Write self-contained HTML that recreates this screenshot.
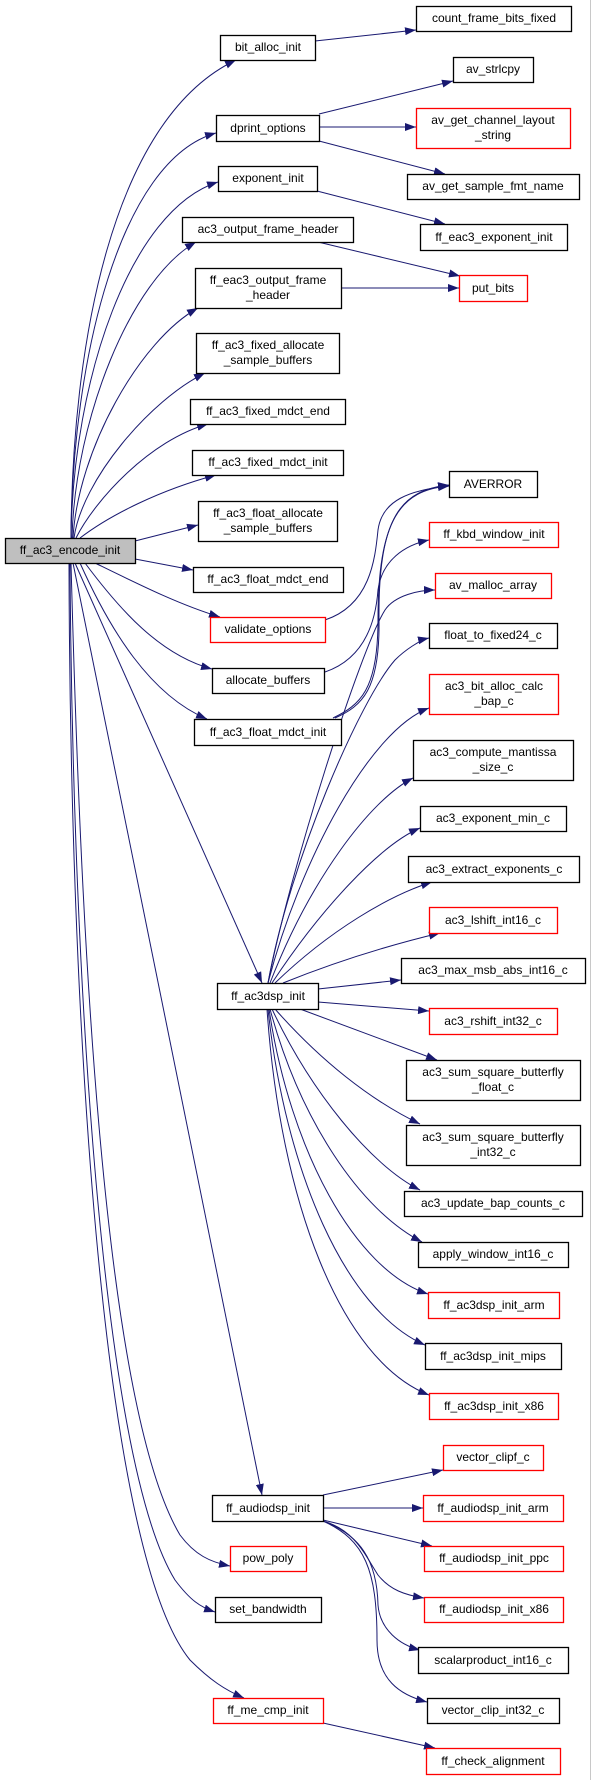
<!DOCTYPE html>
<html><head><meta charset="utf-8"><style>
html,body{margin:0;padding:0;background:#fff;}
svg text{font-family:"Liberation Sans",sans-serif;font-size:12px;fill:#000;}
</style></head><body>
<svg width="591" height="1780" viewBox="0 0 591 1780" xmlns="http://www.w3.org/2000/svg">
<defs><marker id="a" markerWidth="11" markerHeight="8" refX="11" refY="4" orient="auto" markerUnits="userSpaceOnUse"><path d="M0,0 L11,4 L0,8 z" fill="#191970"/></marker></defs>
<line x1="590.5" y1="0" x2="590.5" y2="1780" stroke="#c8c8c8"/>
<g fill="none" stroke="#191970" stroke-width="1" marker-end="url(#a)">
<path d="M71,538 C72,350 110,120 236,60"/>
<path d="M71,538 C72,360 120,160 216,133"/>
<path d="M71,538 C73,380 130,210 218,182"/>
<path d="M72,538 C75,420 130,280 196,242"/>
<path d="M73,538 C78,450 140,340 198,308"/>
<path d="M74,538 C82,480 150,400 205,373"/>
<path d="M76,538 C95,500 150,440 208,424"/>
<path d="M80,538 C110,515 160,490 216,475"/>
<path d="M135,541 L198,525"/>
<path d="M135,559 L193,570"/>
<path d="M95,563 C140,585 180,605 220,617"/>
<path d="M85,563 C120,610 160,655 212,669"/>
<path d="M80,563 C110,630 150,695 207,719"/>
<path d="M75,563 L262,983"/>
<path d="M73,563 L262,1495"/>
<path d="M71,563 C80,900 100,1400 180,1535 C195,1555 210,1562 230,1566"/>
<path d="M70,563 C72,900 95,1450 175,1580 C190,1600 200,1607 215,1612"/>
<path d="M69,563 C70,1000 100,1550 190,1660 C210,1680 225,1690 244,1698"/>
<path d="M315,41 L416,30"/>
<path d="M319,114 L453,81"/>
<path d="M319,127 L416,127"/>
<path d="M319,141 L445,174"/>
<path d="M317,191 L445,224"/>
<path d="M318,242 L460,276"/>
<path d="M341,288 L459,288"/>
<path d="M325,620 C370,605 375,560 378,530 C382,500 410,490 449,486"/>
<path d="M325,672 C360,660 375,630 378,590 C382,560 405,545 429,540"/>
<path d="M333,718 C360,705 378,690 378,620 C378,520 400,490 449,486"/>
<path d="M335,718 C362,706 380,690 379,620 C378,515 402,490 449,485"/>
<path d="M268,983 C290,870 360,650 385,610 C395,595 420,590 435,590"/>
<path d="M268,983 C290,860 360,700 395,660 C405,650 420,640 429,638"/>
<path d="M268,983 C300,860 370,730 429,708"/>
<path d="M270,983 C310,880 370,800 413,778"/>
<path d="M272,983 C320,910 380,845 420,828"/>
<path d="M275,983 C330,930 390,895 432,882"/>
<path d="M283,983 C340,960 390,945 440,933"/>
<path d="M318,989 L401,980"/>
<path d="M318,1002 L429,1011"/>
<path d="M300,1009 L437,1060"/>
<path d="M275,1009 C320,1060 370,1100 420,1124"/>
<path d="M272,1009 C310,1090 370,1165 420,1190"/>
<path d="M270,1009 C300,1120 360,1210 422,1242"/>
<path d="M269,1009 C290,1150 355,1270 428,1294"/>
<path d="M268,1009 C285,1170 345,1310 425,1345"/>
<path d="M267,1009 C280,1200 340,1360 429,1395"/>
<path d="M323,1495 L443,1470"/>
<path d="M323,1508 L423,1508"/>
<path d="M323,1520 L432,1546"/>
<path d="M323,1521 C355,1530 365,1555 378,1575 C390,1590 405,1595 424,1598"/>
<path d="M323,1521 C360,1535 377,1560 378,1605 C380,1630 400,1645 420,1650"/>
<path d="M323,1521 C365,1540 377,1570 377,1640 C377,1680 400,1695 427,1702"/>
<path d="M323,1723 L435,1748"/>
</g>
<g stroke-width="1.3" fill="#fff">
<rect x="416.5" y="6.5" width="155" height="25" stroke="#000"/><text x="494" y="22" text-anchor="middle">count_frame_bits_fixed</text>
<rect x="220.5" y="35.5" width="95" height="25" stroke="#000"/><text x="268" y="51" text-anchor="middle">bit_alloc_init</text>
<rect x="453.5" y="57.5" width="80" height="25" stroke="#000"/><text x="493" y="73" text-anchor="middle">av_strlcpy</text>
<rect x="216.5" y="115.5" width="103" height="26" stroke="#000"/><text x="268" y="132" text-anchor="middle">dprint_options</text>
<rect x="416.5" y="108.5" width="154" height="40" stroke="#f00"/><text x="493" y="124" text-anchor="middle">av_get_channel_layout</text><text x="493" y="139" text-anchor="middle">_string</text>
<rect x="218.5" y="166.5" width="99" height="25" stroke="#000"/><text x="268" y="182" text-anchor="middle">exponent_init</text>
<rect x="407.5" y="174.5" width="172" height="25" stroke="#000"/><text x="493" y="190" text-anchor="middle">av_get_sample_fmt_name</text>
<rect x="182.5" y="217.5" width="171" height="25" stroke="#000"/><text x="268" y="233" text-anchor="middle">ac3_output_frame_header</text>
<rect x="420.5" y="224.5" width="147" height="26" stroke="#000"/><text x="494" y="241" text-anchor="middle">ff_eac3_exponent_init</text>
<rect x="195.5" y="268.5" width="146" height="40" stroke="#000"/><text x="268" y="284" text-anchor="middle">ff_eac3_output_frame</text><text x="268" y="299" text-anchor="middle">_header</text>
<rect x="459.5" y="275.5" width="68" height="26" stroke="#f00"/><text x="493" y="292" text-anchor="middle">put_bits</text>
<rect x="196.5" y="333.5" width="143" height="40" stroke="#000"/><text x="268" y="349" text-anchor="middle">ff_ac3_fixed_allocate</text><text x="268" y="364" text-anchor="middle">_sample_buffers</text>
<rect x="190.5" y="399.5" width="155" height="25" stroke="#000"/><text x="268" y="415" text-anchor="middle">ff_ac3_fixed_mdct_end</text>
<rect x="192.5" y="450.5" width="151" height="25" stroke="#000"/><text x="268" y="466" text-anchor="middle">ff_ac3_fixed_mdct_init</text>
<rect x="449.5" y="471.5" width="88" height="26" stroke="#000"/><text x="493" y="488" text-anchor="middle">AVERROR</text>
<rect x="198.5" y="501.5" width="139" height="40" stroke="#000"/><text x="268" y="517" text-anchor="middle">ff_ac3_float_allocate</text><text x="268" y="532" text-anchor="middle">_sample_buffers</text>
<rect x="429.5" y="522.5" width="129" height="25" stroke="#f00"/><text x="494" y="538" text-anchor="middle">ff_kbd_window_init</text>
<rect x="5.5" y="538.5" width="130" height="25" stroke="#000" fill="#bfbfbf"/><text x="70" y="554" text-anchor="middle">ff_ac3_encode_init</text>
<rect x="193.5" y="567.5" width="150" height="25" stroke="#000"/><text x="268" y="583" text-anchor="middle">ff_ac3_float_mdct_end</text>
<rect x="435.5" y="573.5" width="116" height="25" stroke="#f00"/><text x="493" y="589" text-anchor="middle">av_malloc_array</text>
<rect x="210.5" y="617.5" width="115" height="25" stroke="#f00"/><text x="268" y="633" text-anchor="middle">validate_options</text>
<rect x="429.5" y="623.5" width="128" height="25" stroke="#000"/><text x="493" y="639" text-anchor="middle">float_to_fixed24_c</text>
<rect x="212.5" y="668.5" width="112" height="25" stroke="#000"/><text x="268" y="684" text-anchor="middle">allocate_buffers</text>
<rect x="429.5" y="674.5" width="129" height="40" stroke="#f00"/><text x="494" y="690" text-anchor="middle">ac3_bit_alloc_calc</text><text x="494" y="705" text-anchor="middle">_bap_c</text>
<rect x="194.5" y="719.5" width="147" height="26" stroke="#000"/><text x="268" y="736" text-anchor="middle">ff_ac3_float_mdct_init</text>
<rect x="413.5" y="740.5" width="160" height="40" stroke="#000"/><text x="493" y="756" text-anchor="middle">ac3_compute_mantissa</text><text x="493" y="771" text-anchor="middle">_size_c</text>
<rect x="420.5" y="806.5" width="146" height="25" stroke="#000"/><text x="493" y="822" text-anchor="middle">ac3_exponent_min_c</text>
<rect x="408.5" y="856.5" width="171" height="26" stroke="#000"/><text x="494" y="873" text-anchor="middle">ac3_extract_exponents_c</text>
<rect x="429.5" y="907.5" width="128" height="26" stroke="#f00"/><text x="493" y="924" text-anchor="middle">ac3_lshift_int16_c</text>
<rect x="401.5" y="958.5" width="184" height="25" stroke="#000"/><text x="493" y="974" text-anchor="middle">ac3_max_msb_abs_int16_c</text>
<rect x="217.5" y="983.5" width="101" height="26" stroke="#000"/><text x="268" y="1000" text-anchor="middle">ff_ac3dsp_init</text>
<rect x="429.5" y="1008.5" width="128" height="26" stroke="#f00"/><text x="493" y="1025" text-anchor="middle">ac3_rshift_int32_c</text>
<rect x="406.5" y="1060.5" width="174" height="40" stroke="#000"/><text x="493" y="1076" text-anchor="middle">ac3_sum_square_butterfly</text><text x="493" y="1091" text-anchor="middle">_float_c</text>
<rect x="406.5" y="1125.5" width="174" height="40" stroke="#000"/><text x="493" y="1141" text-anchor="middle">ac3_sum_square_butterfly</text><text x="493" y="1156" text-anchor="middle">_int32_c</text>
<rect x="404.5" y="1191.5" width="178" height="25" stroke="#000"/><text x="493" y="1207" text-anchor="middle">ac3_update_bap_counts_c</text>
<rect x="418.5" y="1242.5" width="150" height="25" stroke="#000"/><text x="493" y="1258" text-anchor="middle">apply_window_int16_c</text>
<rect x="428.5" y="1292.5" width="131" height="26" stroke="#f00"/><text x="494" y="1309" text-anchor="middle">ff_ac3dsp_init_arm</text>
<rect x="425.5" y="1343.5" width="136" height="26" stroke="#000"/><text x="493" y="1360" text-anchor="middle">ff_ac3dsp_init_mips</text>
<rect x="429.5" y="1393.5" width="129" height="26" stroke="#f00"/><text x="494" y="1410" text-anchor="middle">ff_ac3dsp_init_x86</text>
<rect x="443.5" y="1445.5" width="100" height="25" stroke="#f00"/><text x="493" y="1461" text-anchor="middle">vector_clipf_c</text>
<rect x="212.5" y="1495.5" width="111" height="26" stroke="#000"/><text x="268" y="1512" text-anchor="middle">ff_audiodsp_init</text>
<rect x="423.5" y="1495.5" width="140" height="26" stroke="#f00"/><text x="493" y="1512" text-anchor="middle">ff_audiodsp_init_arm</text>
<rect x="230.5" y="1546.5" width="76" height="25" stroke="#f00"/><text x="268" y="1562" text-anchor="middle">pow_poly</text>
<rect x="424.5" y="1546.5" width="139" height="25" stroke="#f00"/><text x="494" y="1562" text-anchor="middle">ff_audiodsp_init_ppc</text>
<rect x="215.5" y="1597.5" width="106" height="25" stroke="#000"/><text x="268" y="1613" text-anchor="middle">set_bandwidth</text>
<rect x="424.5" y="1597.5" width="139" height="25" stroke="#f00"/><text x="494" y="1613" text-anchor="middle">ff_audiodsp_init_x86</text>
<rect x="418.5" y="1647.5" width="150" height="26" stroke="#000"/><text x="493" y="1664" text-anchor="middle">scalarproduct_int16_c</text>
<rect x="213.5" y="1698.5" width="110" height="25" stroke="#f00"/><text x="268" y="1714" text-anchor="middle">ff_me_cmp_init</text>
<rect x="427.5" y="1698.5" width="132" height="25" stroke="#000"/><text x="493" y="1714" text-anchor="middle">vector_clip_int32_c</text>
<rect x="426.5" y="1748.5" width="134" height="26" stroke="#f00"/><text x="493" y="1765" text-anchor="middle">ff_check_alignment</text>
</g>
</svg>
</body></html>
